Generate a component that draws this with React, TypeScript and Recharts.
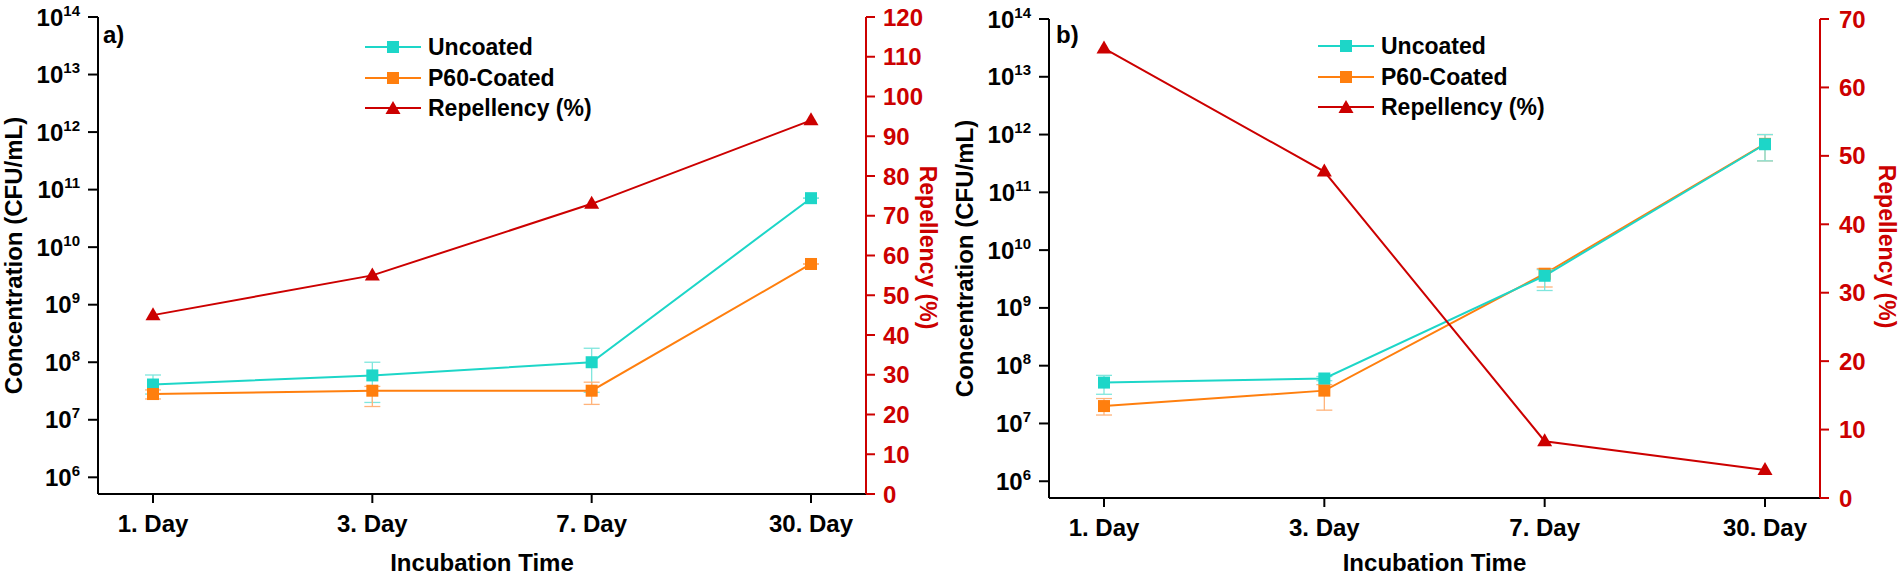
import React from 'react'
import {
  ComposedChart, Line, XAxis, YAxis, ErrorBar, Legend
} from 'recharts'

// ---- data ----
const days = ['1. Day', '3. Day', '7. Day', '30. Day']
const concTicks = [1e6, 1e7, 1e8, 1e9, 1e10, 1e11, 1e12, 1e13, 1e14]

// panel a)
const uncoatedA = [4.1e7, 5.9e7, 1.0e8, 7.1e10]
const uncoatedLowA = [2.8e7, 2.0e7, 3.0e7, 7.1e10]
const uncoatedHighA = [6.0e7, 1.0e8, 1.75e8, 7.1e10]
const p60A = [2.8e7, 3.2e7, 3.2e7, 5.1e9]
const p60LowA = [2.3e7, 1.7e7, 1.85e7, 5.1e9]
const p60HighA = [3.3e7, 3.8e7, 4.5e7, 5.1e9]
const repA = [45, 55, 73, 94]
const repTicksA = [0, 10, 20, 30, 40, 50, 60, 70, 80, 90, 100, 110, 120]

// panel b)
const uncoatedB = [5.1e7, 6.0e7, 3.6e9, 6.8e11]
const uncoatedLowB = [3.2e7, 5.5e7, 2.0e9, 3.5e11]
const uncoatedHighB = [6.8e7, 6.5e7, 4.6e9, 1.0e12]
const p60B = [2.0e7, 3.7e7, 3.9e9, 6.9e11]
const p60LowB = [1.4e7, 1.7e7, 2.3e9, 3.5e11]
const p60HighB = [2.7e7, 4.7e7, 4.8e9, 1.0e12]
const repB = [65.7, 47.7, 8.3, 4.1]
const repTicksB = [0, 10, 20, 30, 40, 50, 60, 70]

const FONT = '"Liberation Sans", Arial, Helvetica, sans-serif'
const CYAN = '#1DD6C8'
const ORANGE = '#FF7F0E'
const RED = '#CC0000'

const buildRows = (u: number[], uLo: number[], uHi: number[], p: number[], pLo: number[], pHi: number[], r: number[]) =>
  days.map((day, i) => ({
    day,
    uncoated: u[i],
    p60: p[i],
    rep: r[i],
    uErr: [u[i] - uLo[i], uHi[i] - u[i]],
    pErr: [p[i] - pLo[i], pHi[i] - p[i]],
  }))

const rowsA = buildRows(uncoatedA, uncoatedLowA, uncoatedHighA, p60A, p60LowA, p60HighA, repA)
const rowsB = buildRows(uncoatedB, uncoatedLowB, uncoatedHighB, p60B, p60LowB, p60HighB, repB)

const shapeOf: Record<string, string> = { uncoated: 'square', p60: 'square', rep: 'triangle' }
const legendOrder = ['uncoated', 'p60', 'rep']

function Marker({ cx, cy, color, shape }: { cx: number; cy: number; color: string; shape: string }) {
  if (shape === 'triangle') {
    return <path d={`M${cx},${cy - 8} L${cx + 7.5},${cy + 5} L${cx - 7.5},${cy + 5} Z`} fill={color} />
  }
  return <rect x={cx - 6} y={cy - 6} width={12} height={12} fill={color} />
}

const dotFor = (color: string, shape: string) => (props: any) => (
  <Marker key={`${props.dataKey}-${props.index}`} cx={props.cx} cy={props.cy} color={color} shape={shape} />
)

function PowTick({ x, y, payload }: any) {
  const exp = Math.round(Math.log10(payload.value))
  return (
    <text x={x} y={y} textAnchor="end" fill="#000" fontFamily={FONT} fontWeight={700} fontSize={24}>
      <tspan dy="0.355em">10</tspan>
      <tspan dy={-10} fontSize={15}>{exp}</tspan>
    </text>
  )
}

// axis title placed relative to the axis box recharts hands to the label
const title = (text: string, place: (vb: any) => [number, number], angle: number, color: string, size: number) =>
  (props: any) => {
    const [x, y] = place(props.viewBox)
    return (
      <text
        x={x} y={y} textAnchor="middle" dy={angle === 0 ? 0 : '0.35em'}
        transform={angle ? `rotate(${angle}, ${x}, ${y})` : undefined}
        fill={color} fontFamily={FONT} fontWeight={700} fontSize={size}
      >{text}</text>
    )
  }

function LegendBox({ payload }: any) {
  const items = [...(payload || [])].sort(
    (a: any, b: any) => legendOrder.indexOf(a.dataKey) - legendOrder.indexOf(b.dataKey)
  )
  return (
    <div>
      {items.map((it: any) => (
        <div key={it.dataKey} style={{ display: 'flex', alignItems: 'center', height: 30.5 }}>
          <svg width={56} height={18} style={{ display: 'block' }}>
            <line x1={0} y1={9} x2={56} y2={9} stroke={it.color} strokeWidth={2} />
            <Marker cx={28} cy={shapeOf[it.dataKey] === 'triangle' ? 10 : 9} color={it.color} shape={shapeOf[it.dataKey]} />
          </svg>
          <span style={{ marginLeft: 7, fontFamily: FONT, fontWeight: 700, fontSize: 23, color: '#000', lineHeight: '30.5px', whiteSpace: 'nowrap' }}>
            {it.value}
          </span>
        </div>
      ))}
    </div>
  )
}

interface Geo {
  left: number; top: number; leftW: number; rightW: number; xH: number
  legendLeft: number; legendTop: number; tagLeft: number
  leftTitleX: number; rightTitleDx: number; rightTitleDy: number; xTitleDy: number
  rightTickMargin: number
}

function Panel({ tag, rows, repMax, repTicks, geo, p60First }: {
  tag: string; rows: any[]; repMax: number; repTicks: number[]; geo: Geo; p60First: boolean
}) {
  const uncoatedLine = (
    <Line key="u" yAxisId="conc" type="linear" dataKey="uncoated" name="Uncoated" stroke={CYAN} strokeWidth={2}
      dot={dotFor(CYAN, 'square')} activeDot={false} isAnimationActive={false}>
      <ErrorBar dataKey="uErr" direction="y" width={8} stroke="#7FE6DD" strokeWidth={1.3} isAnimationActive={false} />
    </Line>
  )
  const p60Line = (
    <Line key="p" yAxisId="conc" type="linear" dataKey="p60" name="P60-Coated" stroke={ORANGE} strokeWidth={2}
      dot={dotFor(ORANGE, 'square')} activeDot={false} isAnimationActive={false}>
      <ErrorBar dataKey="pErr" direction="y" width={8} stroke="#FFB37A" strokeWidth={1.3} isAnimationActive={false} />
    </Line>
  )
  return (
    <div style={{ position: 'absolute', left: geo.left, top: 0, width: 950, height: 576 }}>
      <ComposedChart width={950} height={576} data={rows} margin={{ top: geo.top, right: 0, bottom: 0, left: 0 }}>
        <XAxis xAxisId="top" orientation="top" dataKey="day" height={0} tick={false} tickLine={false}
          axisLine={{ stroke: '#000', strokeWidth: 2 }} padding={{ left: 55, right: 55 }} />
        <XAxis dataKey="day" height={geo.xH} padding={{ left: 55, right: 55 }} interval={0}
          axisLine={{ stroke: '#000', strokeWidth: 2 }} tickLine={{ stroke: '#000', strokeWidth: 2 }}
          tickSize={9} tickMargin={12}
          tick={{ fill: '#000', fontFamily: FONT, fontWeight: 700, fontSize: 24 }}
          label={{ content: title('Incubation Time', (vb) => [vb.x + vb.width / 2, vb.y + geo.xTitleDy], 0, '#000', 24) as any }}
        />
        <YAxis yAxisId="conc" orientation="left" width={geo.leftW} scale="log" type="number"
          domain={[Math.pow(10, 5.71), 1e14]} allowDataOverflow ticks={concTicks} interval={0}
          axisLine={{ stroke: '#000', strokeWidth: 2 }} tickLine={{ stroke: '#000', strokeWidth: 2 }}
          tickSize={10} tickMargin={8} tick={<PowTick />}
          label={{ content: title('Concentration (CFU/mL)', (vb) => [vb.x + geo.leftTitleX, vb.y + vb.height / 2], -90, '#000', 24) as any }}
        />
        <YAxis yAxisId="rep" orientation="right" width={geo.rightW} type="number"
          domain={[0, repMax]} ticks={repTicks} interval={0}
          axisLine={{ stroke: RED, strokeWidth: 2 }} tickLine={{ stroke: RED, strokeWidth: 2 }}
          tickSize={9} tickMargin={geo.rightTickMargin}
          tick={{ fill: RED, fontFamily: FONT, fontWeight: 700, fontSize: 24 }}
          label={{ content: title('Repellency (%)', (vb) => [vb.x + geo.rightTitleDx, vb.y + vb.height / 2 + geo.rightTitleDy], 90, RED, 23) as any }}
        />
        {p60First ? [p60Line, uncoatedLine] : [uncoatedLine, p60Line]}
        <Line yAxisId="rep" type="linear" dataKey="rep" name="Repellency (%)" stroke={RED} strokeWidth={2}
          dot={dotFor(RED, 'triangle')} activeDot={false} isAnimationActive={false} />
        <Legend content={<LegendBox />} layout="vertical" align="center" verticalAlign="middle"
          wrapperStyle={{ position: 'absolute', left: geo.legendLeft, top: geo.legendTop, width: 'auto', height: 'auto' }} />
      </ComposedChart>
      <div style={{
        position: 'absolute', left: geo.tagLeft, top: 23, fontFamily: FONT, fontWeight: 700,
        fontSize: 24, lineHeight: '24px', color: '#000'
      }}>{tag}</div>
    </div>
  )
}

const geoA: Geo = {
  left: 0, top: 17, leftW: 98, rightW: 84, xH: 82, legendLeft: 365, legendTop: 32, tagLeft: 103,
  leftTitleX: 14, rightTitleDx: 62, rightTitleDy: -8, xTitleDy: 76.5, rightTickMargin: 8,
}
const geoB: Geo = {
  left: 950, top: 19, leftW: 99, rightW: 80, xH: 78, legendLeft: 368, legendTop: 31, tagLeft: 106,
  leftTitleX: 15, rightTitleDx: 67, rightTitleDy: -12, xTitleDy: 72.5, rightTickMargin: 10,
}

export default function App() {
  return (
    <div style={{ position: 'absolute', left: 0, top: 0, width: 1900, height: 576, background: '#fff' }}>
      <Panel tag="a)" rows={rowsA} repMax={120} repTicks={repTicksA} geo={geoA} p60First={false} />
      <Panel tag="b)" rows={rowsB} repMax={70} repTicks={repTicksB} geo={geoB} p60First={true} />
    </div>
  )
}
